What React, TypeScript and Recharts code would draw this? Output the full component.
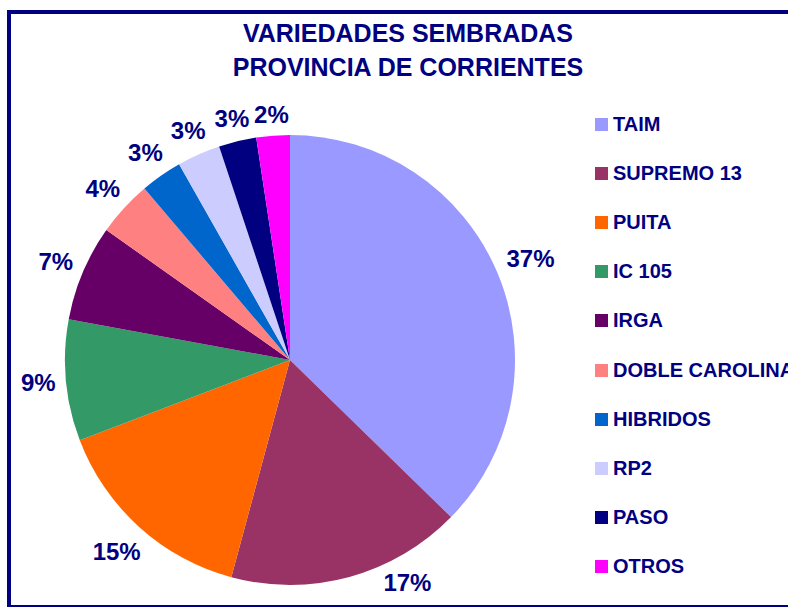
import React from 'react';
import { PieChart, Pie, Cell, Legend } from 'recharts';

// Variedades sembradas - Provincia de Corrientes (% of area)
const varieties = ['TAIM', 'SUPREMO 13', 'PUITA', 'IC 105', 'IRGA', 'DOBLE CAROLINA', 'HIBRIDOS', 'RP2', 'PASO', 'OTROS'];
const shares = [37.3, 16.9, 15.0, 8.7, 6.9, 4.0, 3.0, 3.1, 2.7, 2.4];
const colors = ['#9999FF', '#993366', '#FF6600', '#339966', '#660066', '#FF8080', '#0066CC', '#CCCCFF', '#000080', '#FF00FF'];

const titleLines = ['VARIEDADES SEMBRADAS', 'PROVINCIA DE CORRIENTES'];

const NAVY = '#000080';
const FONT = '"Liberation Sans", Arial, Helvetica, sans-serif';
const RADIAN = Math.PI / 180;

const chartData = varieties.map((name, i) => ({ name, value: shares[i] }));

const renderLabel = (props: any) => {
  const { cx, cy, midAngle, outerRadius, percent } = props;
  const text = `${Math.round(percent * 100)}%`;
  const w = text.length * 15;
  const h = 17;
  const c = Math.cos(midAngle * RADIAN);
  const s = Math.sin(midAngle * RADIAN);
  // push the label out so its box clears the rim
  const dist = outerRadius + 12 + (w / 2) * Math.abs(c) + (h / 2) * Math.abs(s);
  let dx = dist * c;
  let dy = -dist * s;
  // keep labels inside the plot area at the bottom
  const maxDy = 222;
  if (dy > maxDy) {
    dy = maxDy;
    dx = Math.sign(dx) * Math.sqrt(dist * dist - dy * dy);
  }
  return (
    <text
      x={cx + dx}
      y={cy + dy}
      fill={NAVY}
      textAnchor="middle"
      dominantBaseline="central"
      style={{ fontFamily: FONT, fontWeight: 'bold', fontSize: 24 }}
    >
      {text}
    </text>
  );
};

const renderLegend = () => (
  <div style={{ fontFamily: FONT }}>
    {varieties.map((name, i) => (
      <div key={name} style={{ display: 'flex', alignItems: 'center', height: 49.2, whiteSpace: 'nowrap' }}>
        <span style={{ width: 13, height: 13, background: colors[i], display: 'inline-block', marginRight: 5 }} />
        <span style={{ color: NAVY, fontWeight: 'bold', fontSize: 20 }}>{name}</span>
      </div>
    ))}
  </div>
);

export default function App() {
  return (
    <div style={{ position: 'fixed', left: 0, top: 0, width: 788, height: 607, overflow: 'hidden', background: '#fff' }}>
      <div
        style={{
          position: 'absolute',
          left: 7,
          top: 10,
          width: 820,
          height: 599,
          border: `4px solid ${NAVY}`,
          boxSizing: 'border-box',
        }}
      />
      <div
        style={{
          position: 'absolute',
          left: 208,
          top: 16,
          width: 400,
          textAlign: 'center',
          fontFamily: FONT,
          fontWeight: 'bold',
          fontSize: 25,
          lineHeight: '34px',
          color: NAVY,
        }}
      >
        {titleLines.map((t) => (
          <div key={t}>{t}</div>
        ))}
      </div>
      <div style={{ position: 'absolute', left: 0, top: 0 }}>
        <PieChart width={788} height={607} margin={{ top: 0, right: 0, bottom: 0, left: 0 }}>
          <Pie
            data={chartData}
            dataKey="value"
            nameKey="name"
            cx={290}
            cy={360}
            outerRadius={225}
            startAngle={90}
            endAngle={-270}
            stroke="none"
            label={renderLabel}
            labelLine={false}
            isAnimationActive={false}
          >
            {chartData.map((d, i) => (
              <Cell key={d.name} fill={colors[i]} stroke="none" />
            ))}
          </Pie>
          <Legend
            content={renderLegend}
            wrapperStyle={{ position: 'absolute', left: 595, top: 99.5, width: 200, bottom: 'auto', right: 'auto' }}
          />
        </PieChart>
      </div>
    </div>
  );
}
